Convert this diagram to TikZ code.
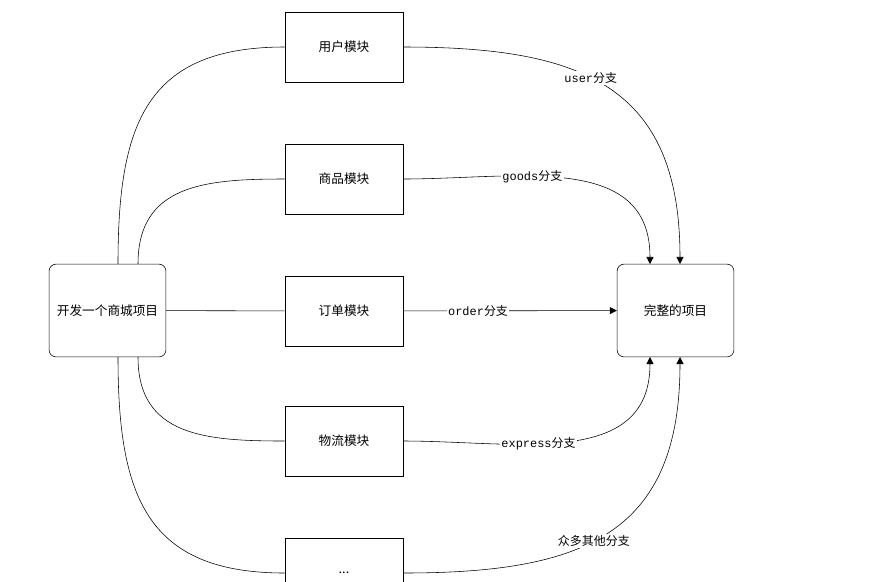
\documentclass[tikz,border=0pt]{standalone}
\usepackage{fontspec}
\setmainfont{Noto Sans CJK SC}
\setmonofont{Liberation Mono}
\newfontfamily\cjk{Noto Sans CJK SC}
\usetikzlibrary{arrows.meta}

\begin{document}
\begin{tikzpicture}[x=0.025cm,y=-0.025cm,
	font=\fontsize{9}{11}\selectfont,
	modbox/.style={shape=rectangle,draw=black,minimum width=2.95cm,minimum height=1.75cm},
	endbox/.style={shape=rectangle,draw=black,rounded corners=5pt,minimum width=2.92cm,minimum height=2.32cm},
	branch/.style={fill=white,inner sep=1pt,font=\fontsize{8.5}{10}\selectfont\ttfamily}]
	\useasboundingbox (0,0) rectangle (880,581);

	\node[endbox] (start) at (107.5, 310.5)  {开发一个商城项目};
	\node[endbox] (full) at (675.5, 310.5)   {完整的项目};
	\node[modbox] (user) at (344, 47)        {用户模块};
	\node[modbox] (goods) at (344, 179)      {商品模块};
	\node[modbox] (order) at (344, 311)      {订单模块};
	\node[modbox] (express) at (344, 441)    {物流模块};
	\node[modbox] (more) at (344, 573)       {...};

	\coordinate (sUser) at (118, 264);
	\coordinate (sGoods) at (138, 264);
	\coordinate (sExpress) at (138, 357);
	\coordinate (sMore) at (118, 357);
	\coordinate (fUser) at (680, 264);
	\coordinate (fGoods) at (650, 264);
	\coordinate (fExpress) at (650, 357);
	\coordinate (fMore) at (680, 357);

	% left side
	\draw (sUser) to[out=90,in=180,looseness=1.3] (user.west);
	\draw (sGoods) to[out=90,in=180,looseness=1.2] (goods.west);
	\draw (start) -- (order);
	\draw (sExpress) to[out=-90,in=180,looseness=1.2] (express.west);
	\draw (sMore) to[out=-90,in=180,looseness=1.3] (more.west);

	% right side
	\draw[-{Triangle[length=5pt,width=5pt]}] (user.east) to[out=0,in=90,looseness=1.3] node[branch,pos=0.44]{user{\cjk 分支}} (fUser);
	\draw[-{Triangle[length=5pt,width=5pt]}] (goods.east) to[out=0,in=90,looseness=1.1] node[branch,pos=0.38]{goods{\cjk 分支}} (fGoods);
	\draw[-{Triangle[length=5pt,width=5pt]}] (order) -- node[branch,pos=0.35]{order{\cjk 分支}} (full);
	\draw[-{Triangle[length=5pt,width=5pt]}] (express.east) to[out=0,in=-90,looseness=1.1] node[branch,pos=0.4]{express{\cjk 分支}} (fExpress);
	\draw[-{Triangle[length=5pt,width=5pt]}] (more.east) to[out=0,in=-90,looseness=1.3] node[branch,pos=0.45]{\cjk 众多其他分支} (fMore);
\end{tikzpicture}
\end{document}
